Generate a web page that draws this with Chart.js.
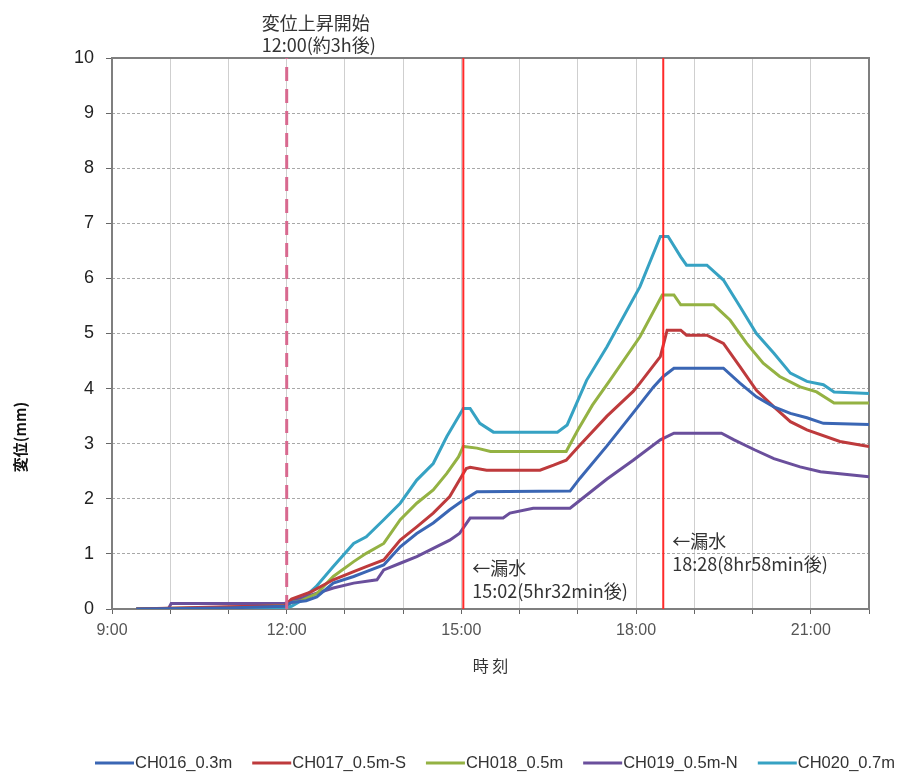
<!DOCTYPE html>
<html lang="ja">
<head>
<meta charset="utf-8">
<title>変位の経時変化</title>
<script src="https://cdn.jsdelivr.net/npm/chart.js@4.4.1/dist/chart.umd.min.js"></script>
<style>
  html, body { margin: 0; padding: 0; background: #fff; }
  #wrap { width: 913px; height: 775px; position: relative; }
</style>
</head>
<body>
<div id="wrap"><canvas id="dispChart"></canvas></div>
<script>
// 計測時刻(時:分)と変位(mm)
const ch016Times = ['9:25','11:00','11:58','12:05','12:20','12:31','12:48','13:09','13:22','13:40','13:57','14:14','14:31','14:48','15:00','15:16','16:52','17:02','17:30','17:57','18:18','18:28','18:39','19:30','19:47','20:04','20:22','20:39','20:56','21:13','22:00'];
const ch016Values = [0, 0.02, 0.05, 0.12, 0.15, 0.22, 0.47, 0.59, 0.68, 0.80, 1.13, 1.37, 1.56, 1.80, 1.95, 2.13, 2.14, 2.37, 2.96, 3.56, 4.03, 4.22, 4.37, 4.37, 4.10, 3.85, 3.67, 3.55, 3.47, 3.37, 3.35];

const ch017Times = ['9:25','11:00','11:58','12:05','12:25','12:48','13:09','13:22','13:40','13:57','14:14','14:31','14:48','14:58','15:05','15:09','15:26','16:21','16:35','16:48','17:02','17:30','17:57','18:04','18:25','18:32','18:46','18:52','19:13','19:30','19:47','20:04','20:22','20:39','20:56','21:30','22:00'];
const ch017Values = [0, 0.04, 0.06, 0.18, 0.31, 0.53, 0.68, 0.77, 0.89, 1.25, 1.49, 1.74, 2.04, 2.34, 2.55, 2.57, 2.52, 2.52, 2.61, 2.70, 2.97, 3.50, 3.95, 4.10, 4.58, 5.06, 5.06, 4.97, 4.97, 4.82, 4.40, 3.97, 3.67, 3.40, 3.25, 3.04, 2.95];

const ch018Times = ['9:25','11:00','11:58','12:05','12:15','12:31','12:48','13:09','13:22','13:40','13:57','14:14','14:31','14:45','14:57','15:02','15:16','15:30','16:48','17:00','17:15','17:33','18:04','18:27','18:39','18:46','19:20','19:37','19:54','20:11','20:28','20:49','21:06','21:24','22:00'];
const ch018Values = [0, 0.03, 0.06, 0.12, 0.15, 0.28, 0.59, 0.86, 1.01, 1.19, 1.62, 1.92, 2.16, 2.46, 2.76, 2.95, 2.92, 2.86, 2.86, 3.25, 3.70, 4.15, 4.94, 5.70, 5.70, 5.52, 5.52, 5.24, 4.82, 4.46, 4.22, 4.03, 3.94, 3.74, 3.74];

const ch019Times = ['9:25','9:58','10:01','11:58','12:05','12:14','12:48','13:09','13:33','13:40','13:57','14:14','14:31','14:48','14:58','15:09','15:43','15:50','16:14','16:52','17:02','17:30','17:57','18:25','18:39','19:28','19:41','20:02','20:22','20:49','21:10','22:00'];
const ch019Values = [0, 0, 0.10, 0.10, 0.14, 0.19, 0.38, 0.47, 0.53, 0.71, 0.83, 0.95, 1.10, 1.25, 1.37, 1.65, 1.65, 1.74, 1.83, 1.83, 1.97, 2.36, 2.70, 3.07, 3.19, 3.19, 3.07, 2.89, 2.73, 2.58, 2.49, 2.40];

const ch020Times = ['9:25','11:58','12:05','12:13','12:30','12:48','13:09','13:22','13:40','13:57','14:14','14:31','14:45','14:57','15:02','15:09','15:19','15:33','16:39','16:49','17:09','17:30','18:04','18:25','18:33','18:46','18:52','19:13','19:30','19:47','20:04','20:22','20:39','20:56','21:13','21:24','22:00'];
const ch020Values = [0, 0.02, 0.05, 0.13, 0.40, 0.77, 1.19, 1.31, 1.62, 1.92, 2.34, 2.64, 3.13, 3.49, 3.64, 3.64, 3.37, 3.21, 3.21, 3.34, 4.15, 4.76, 5.85, 6.76, 6.76, 6.39, 6.24, 6.24, 5.97, 5.49, 5.00, 4.64, 4.28, 4.13, 4.07, 3.94, 3.91];

const seriesNames = ['CH016_0.3m', 'CH017_0.5m-S', 'CH018_0.5m', 'CH019_0.5m-N', 'CH020_0.7m'];
const seriesColors = ['#3a66b4', '#be3a3c', '#94b243', '#6a4f9c', '#36a2c3'];

// 変位上昇開始、漏水1回目、漏水2回目
const eventTimes = ['12:00', '15:02', '18:28'];
const eventNotes = [
  ['変位上昇開始', '12:00(約3h後)'],
  ['←漏水', '15:02(5hr32min後)'],
  ['←漏水', '18:28(8hr58min後)']
];

const yMin = 0, yMax = 10;
const xMin = 9, xMax = 22;

function toHours(t) {
  const [h, m] = t.split(':').map(Number);
  return h + m / 60;
}

function toPoints(times, values) {
  return times.map((t, i) => ({ x: toHours(t), y: values[i] }));
}

const seriesData = [
  toPoints(ch016Times, ch016Values),
  toPoints(ch017Times, ch017Values),
  toPoints(ch018Times, ch018Values),
  toPoints(ch019Times, ch019Values),
  toPoints(ch020Times, ch020Values)
];

const datasets = seriesData.map((pts, i) => ({
  label: seriesNames[i],
  data: pts,
  borderColor: seriesColors[i],
  backgroundColor: seriesColors[i],
  borderWidth: 3,
  pointRadius: 0,
  tension: 0,
  order: 2,
  isSeries: true
}));

// 縦の基準線
eventTimes.forEach((t, i) => {
  const x = toHours(t);
  datasets.push({
    label: t,
    data: [{ x: x, y: yMin }, { x: x, y: yMax }],
    borderColor: i === 0 ? '#d8698f' : '#ff2a2a',
    borderWidth: i === 0 ? 3 : 2,
    borderDash: i === 0 ? [14, 8] : [],
    pointRadius: 0,
    order: 1,
    isSeries: false
  });
});

const jpFont = "'Noto Sans CJK JP', sans-serif";

const decorPlugin = {
  id: 'decor',
  beforeDatasetsDraw(chart) {
    const { ctx, chartArea: a } = chart;
    ctx.save();
    ctx.strokeStyle = '#7f7f7f';
    ctx.lineWidth = 2;
    ctx.strokeRect(a.left, a.top, a.right - a.left, a.bottom - a.top);
    ctx.restore();
  },
  afterDraw(chart) {
    const { ctx, chartArea: a, scales: { x } } = chart;
    ctx.save();
    ctx.fillStyle = '#333';
    ctx.font = '18px ' + jpFont;
    ctx.textBaseline = 'middle';
    ctx.textAlign = 'left';

    // 注記
    const x0 = x.getPixelForValue(toHours(eventTimes[0]));
    ctx.fillText(eventNotes[0][0], x0 - 25, 23);
    ctx.fillText(eventNotes[0][1], x0 - 25, 45);

    const x1 = x.getPixelForValue(toHours(eventTimes[1]));
    ctx.fillText(eventNotes[1][0], x1 + 9, a.bottom - 41);
    ctx.fillText(eventNotes[1][1], x1 + 9, a.bottom - 18);

    const x2 = x.getPixelForValue(toHours(eventTimes[2]));
    ctx.fillText(eventNotes[2][0], x2 + 9, a.bottom - 68);
    ctx.fillText(eventNotes[2][1], x2 + 9, a.bottom - 45);

    // 縦軸タイトル
    ctx.save();
    ctx.translate(20, 437);
    ctx.rotate(-Math.PI / 2);
    ctx.textAlign = 'center';
    ctx.fillStyle = '#111';
    ctx.font = 'bold 15px ' + jpFont;
    ctx.fillText('変位(mm)', 0, 0);
    ctx.restore();

    // 凡例
    ctx.font = "16.5px 'Liberation Sans', Arial, sans-serif";
    ctx.fillStyle = '#333';
    let lx = 95;
    const ly = 763;
    chart.data.datasets.filter(d => d.isSeries).forEach(d => {
      ctx.strokeStyle = d.borderColor;
      ctx.lineWidth = 3;
      ctx.beginPath();
      ctx.moveTo(lx, ly);
      ctx.lineTo(lx + 39, ly);
      ctx.stroke();
      ctx.fillText(d.label, lx + 40, ly);
      lx += 40 + ctx.measureText(d.label).width + 20;
    });
    ctx.restore();
  }
};

const ctx = document.getElementById('dispChart').getContext('2d');
const dispChart = new Chart(ctx, {
  type: 'line',
  data: { datasets: datasets },
  options: {
    responsive: true,
    maintainAspectRatio: false,
    animation: false,
    layout: { padding: { top: 58, right: 44, bottom: 0, left: 0 } },
    plugins: {
      legend: { display: false },
      tooltip: { enabled: false }
    },
    scales: {
      x: {
        type: 'linear',
        min: xMin,
        max: xMax,
        afterFit: s => { s.height = 166; },
        ticks: {
          stepSize: 1,
          autoSkip: false,
          maxRotation: 0,
          padding: 7,
          color: '#555',
          font: { family: "'Liberation Sans Narrow', 'Liberation Sans', sans-serif", size: 16 },
          callback: v => (v % 3 === 0 ? v + ':00' : '')
        },
        grid: { color: '#cfcfcf', lineWidth: 1, tickLength: 5, tickColor: '#666' },
        border: { display: false },
        title: {
          display: true,
          text: '時 刻',
          color: '#333',
          font: { family: jpFont, size: 16 },
          padding: { top: 0, bottom: 99 }
        }
      },
      y: {
        min: yMin,
        max: yMax,
        afterFit: s => { s.width = 112; },
        ticks: {
          stepSize: 1,
          padding: 12,
          color: '#222',
          font: { family: "'Liberation Sans', Arial, sans-serif", size: 18 }
        },
        grid: { color: '#a8a8a8', lineWidth: 1, tickLength: 6, tickColor: '#666' },
        border: { display: false, dash: [3, 2] }
      }
    }
  },
  plugins: [decorPlugin]
});
</script>
</body>
</html>
